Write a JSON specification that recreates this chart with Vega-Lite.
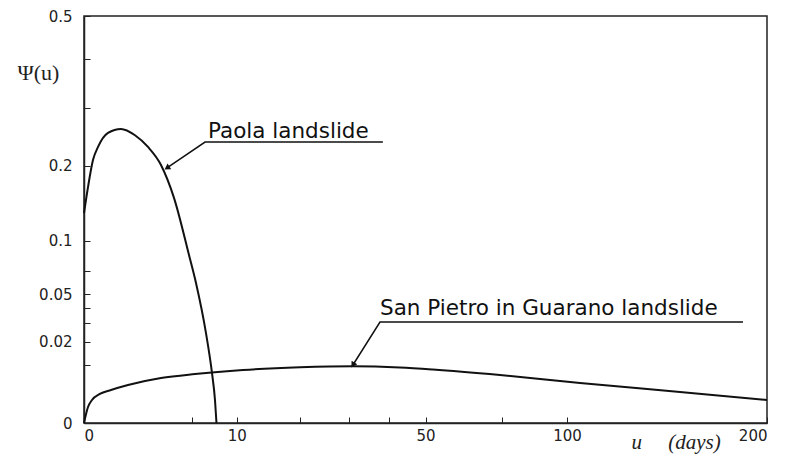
{
  "$schema": "https://vega.github.io/schema/vega-lite/v6.json",
  "width": 683,
  "height": 407,
  "autosize": {"type": "none"},
  "padding": {"left": 84, "top": 16, "right": 20, "bottom": 41},
  "background": "white",
  "datasets": {
    "curves": [
      {"series": "Paola", "u": 0, "psi": 0.133},
      {"series": "Paola", "u": 0.0069, "psi": 0.168},
      {"series": "Paola", "u": 0.035, "psi": 0.209},
      {"series": "Paola", "u": 0.084, "psi": 0.23},
      {"series": "Paola", "u": 0.247, "psi": 0.254},
      {"series": "Paola", "u": 0.587, "psi": 0.261},
      {"series": "Paola", "u": 1.115, "psi": 0.25},
      {"series": "Paola", "u": 1.756, "psi": 0.23},
      {"series": "Paola", "u": 2.541, "psi": 0.201},
      {"series": "Paola", "u": 3.472, "psi": 0.153},
      {"series": "Paola", "u": 4.726, "psi": 0.0852},
      {"series": "Paola", "u": 5.377, "psi": 0.0592},
      {"series": "Paola", "u": 6.38, "psi": 0.0244},
      {"series": "Paola", "u": 7.023, "psi": 0.00755},
      {"series": "Paola", "u": 7.356, "psi": 0.0016},
      {"series": "Paola", "u": 7.525, "psi": 0},
      {"series": "San Pietro", "u": 0, "psi": 0},
      {"series": "San Pietro", "u": 0.0069, "psi": 0.00077},
      {"series": "San Pietro", "u": 0.0274, "psi": 0.0016},
      {"series": "San Pietro", "u": 0.107, "psi": 0.00255},
      {"series": "San Pietro", "u": 0.3125, "psi": 0.00329},
      {"series": "San Pietro", "u": 0.83, "psi": 0.00436},
      {"series": "San Pietro", "u": 2.541, "psi": 0.00611},
      {"series": "San Pietro", "u": 5.28, "psi": 0.00725},
      {"series": "San Pietro", "u": 10.84, "psi": 0.00848},
      {"series": "San Pietro", "u": 20.0, "psi": 0.00935},
      {"series": "San Pietro", "u": 31.0, "psi": 0.0097},
      {"series": "San Pietro", "u": 42.8, "psi": 0.0093},
      {"series": "San Pietro", "u": 52.2, "psi": 0.00864},
      {"series": "San Pietro", "u": 74.2, "psi": 0.00695},
      {"series": "San Pietro", "u": 105.5, "psi": 0.00483},
      {"series": "San Pietro", "u": 152.3, "psi": 0.0029},
      {"series": "San Pietro", "u": 200, "psi": 0.0016}
    ],
    "leaders": [
      {"series": "Paola", "step": 1, "u": 38.3, "psi": 0.2383},
      {"series": "Paola", "step": 2, "u": 6.28, "psi": 0.2383},
      {"series": "Paola", "step": 3, "u": 2.953, "psi": 0.1963},
      {"series": "San Pietro", "step": 1, "u": 186.2, "psi": 0.0308},
      {"series": "San Pietro", "step": 2, "u": 37.56, "psi": 0.0308},
      {"series": "San Pietro", "step": 3, "u": 31.0, "psi": 0.01015}
    ],
    "labels": [
      {"series": "Paola", "label": "Paola landslide", "u": 6.59, "psi": 0.245},
      {"series": "San Pietro", "label": "San Pietro in Guarano landslide", "u": 37.56, "psi": 0.0352}
    ]
  },
  "encoding": {
    "x": {
      "field": "u",
      "type": "quantitative",
      "scale": {"type": "sqrt", "domain": [0, 200], "nice": false, "zero": true},
      "axis": {
        "values": [0, 5, 10, 20, 30, 40, 50, 75, 100, 200],
        "labelExpr": "indexof([0, 10, 50, 100, 200], datum.value) >= 0 ? '' + datum.value : ''",
        "labelOverlap": false,
        "tickSize": -6,
        "labelPadding": 11,
        "title": "u\u00a0\u00a0\u00a0\u00a0\u00a0(days)",
        "titleFont": "Liberation Serif",
        "titleFontStyle": "italic",
        "titleFontWeight": "normal",
        "titleFontSize": 21,
        "titleColor": "#222",
        "titleAlign": "left",
        "titleAnchor": "start",
        "titleBaseline": "alphabetic",
        "titleX": 547,
        "titleY": 25
      }
    },
    "y": {
      "field": "psi",
      "type": "quantitative",
      "scale": {"type": "sqrt", "domain": [0, 0.5], "nice": false, "zero": true},
      "axis": {
        "values": [0, 0.01, 0.02, 0.03, 0.04, 0.05, 0.07, 0.1, 0.2, 0.3, 0.4, 0.5],
        "labelExpr": "indexof([0, 0.02, 0.05, 0.1, 0.2, 0.5], datum.value) >= 0 ? '' + datum.value : ''",
        "labelOverlap": false,
        "tickSize": -6,
        "labelPadding": 18,
        "title": "Ψ(u)",
        "titleAngle": 0,
        "titleFont": "Liberation Serif",
        "titleFontWeight": "normal",
        "titleFontSize": 22,
        "titleColor": "#222",
        "titleAlign": "left",
        "titleBaseline": "middle",
        "titleX": -67,
        "titleY": 56
      }
    }
  },
  "layer": [
    {
      "data": {"name": "curves"},
      "mark": {"type": "line", "color": "#111", "strokeWidth": 2, "interpolate": "monotone"},
      "encoding": {"detail": {"field": "series"}}
    },
    {
      "data": {"name": "leaders"},
      "mark": {"type": "line", "color": "#111", "strokeWidth": 1.5},
      "encoding": {
        "detail": {"field": "series"},
        "order": {"field": "step", "type": "quantitative"}
      }
    },
    {
      "data": {"name": "leaders"},
      "transform": [{"filter": "datum.step == 3 && datum.series == 'Paola'"}],
      "mark": {"type": "point", "shape": "triangle-up", "filled": true, "color": "#111", "size": 45, "angle": 236, "opacity": 1}
    },
    {
      "data": {"name": "leaders"},
      "transform": [{"filter": "datum.step == 3 && datum.series == 'San Pietro'"}],
      "mark": {"type": "point", "shape": "triangle-up", "filled": true, "color": "#111", "size": 45, "angle": 212, "opacity": 1}
    },
    {
      "data": {"name": "labels"},
      "mark": {"type": "text", "align": "left", "baseline": "alphabetic", "font": "DejaVu Sans", "fontSize": 21.5, "color": "#111"},
      "encoding": {"text": {"field": "label"}}
    }
  ],
  "config": {
    "view": {"stroke": "#222", "strokeWidth": 1.5},
    "axis": {
      "grid": false,
      "domainColor": "#222",
      "domainWidth": 1.5,
      "tickColor": "#222",
      "tickWidth": 1,
      "labelFont": "DejaVu Sans",
      "labelFontSize": 15,
      "labelColor": "#222"
    }
  }
}
